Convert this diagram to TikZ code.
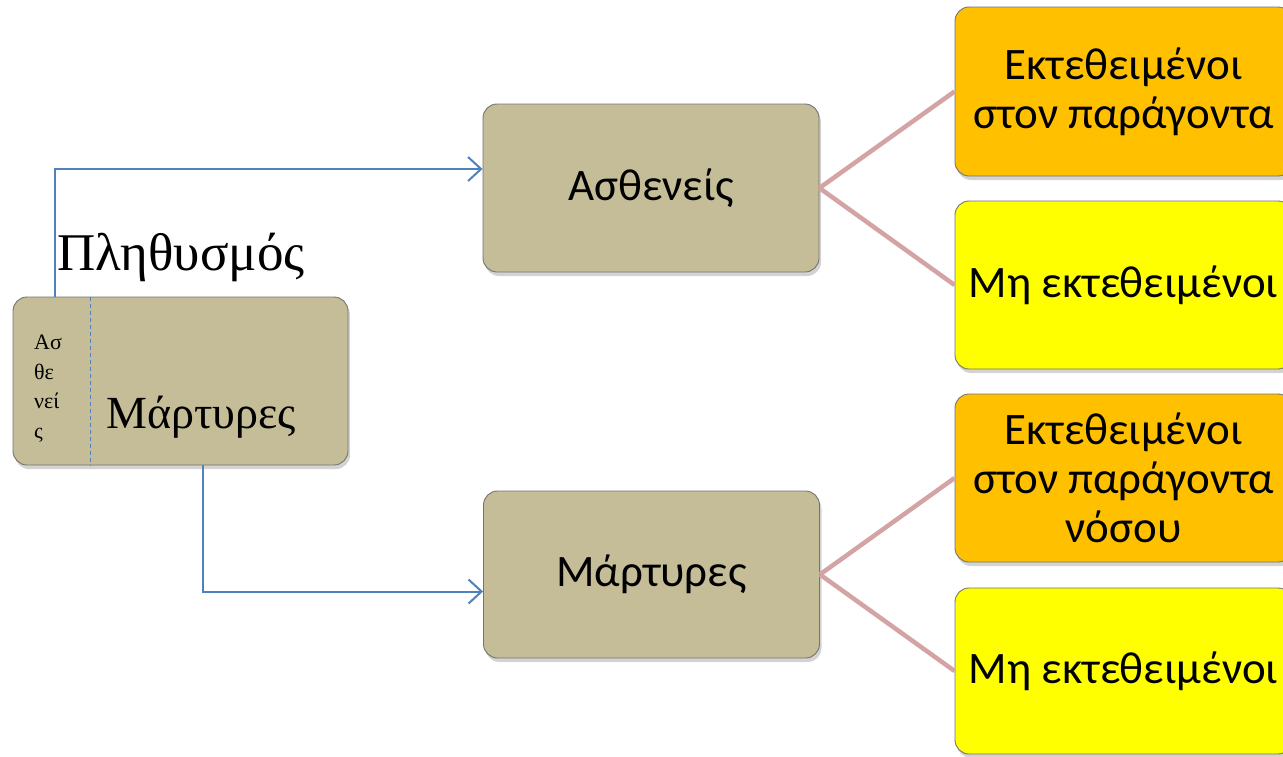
\documentclass[tikz,border=0pt]{standalone}
\usepackage{fontspec}
\setmainfont{Liberation Serif}
\newfontfamily\carl{Carlito}
\usetikzlibrary{arrows.meta,shadows}
\definecolor{tanbox}{HTML}{C4BD97}
\definecolor{orangebox}{HTML}{FFC000}
\definecolor{yellowbox}{HTML}{FFFF00}
\definecolor{bluelink}{HTML}{4F81BD}
\definecolor{pinklink}{HTML}{D4A3A3}
\tikzset{
  basebox/.style={rounded corners=14pt, draw=black!55, line width=0.9pt, inner sep=0pt,
    drop shadow={opacity=0.35, shadow xshift=2pt, shadow yshift=-4pt}},
  tanstyle/.style={basebox, fill=tanbox, minimum width=336pt, minimum height=168pt},
  rightbox/.style={basebox, minimum width=337pt, minimum height=168pt, align=center,
    font=\carl\fontsize{45}{49}\selectfont},
  midtext/.style={font=\carl\fontsize{45}{50}\selectfont},
  bluearrow/.style={draw=bluelink, line width=2pt, -{Straight Barb[length=13pt,width=24pt,line width=2pt]}},
  pinkline/.style={draw=pinklink, line width=4.5pt},
}
\begin{document}
\begin{tikzpicture}[x=1pt,y=-1pt]
\useasboundingbox (0,0) rectangle (1283,756);
\clip (0,0) rectangle (1283,756);
% left box
\node[tanstyle, minimum width=335pt] (lb) at (180.5,381) {};
\draw[bluelink, line width=1.2pt, dashed, dash pattern=on 4pt off 3pt] ([xshift=78pt]lb.north west) coordinate (d1) -- (d1 |- lb.south) coordinate (d2);
\node[anchor=base west, align=left, font=\fontsize{22}{29.5}\selectfont, inner sep=0pt] (small) at (34,438) {Ασ\\θε\\νεί\\ς};
\node[anchor=base west, font=\fontsize{46}{56}\selectfont, inner sep=0pt] (lbt) at (106,428) {Μάρτυρες};
\node[anchor=base west, font=\fontsize{53}{60}\selectfont, inner sep=0pt] (pop) at (57,270) {Πληθυσμός};
% middle boxes
\node[tanstyle, midtext] (as) at (651,188) {Ασθενείς};
\node[tanstyle, midtext, minimum height=167pt] (mt) at (651.5,574.5) {Μάρτυρες};
% right boxes
\node[rightbox, fill=orangebox, minimum height=169pt] (o1) at (1123.5,91.5) {Εκτεθειμένοι\\στον παράγοντα};
\node[rightbox, fill=yellowbox] (y1) at (1123.5,285) {Μη εκτεθειμένοι};
\node[rightbox, fill=orangebox] (o2) at (1123.5,478) {Εκτεθειμένοι\\στον παράγοντα\\νόσου};
\node[rightbox, fill=yellowbox, minimum height=166pt] (y2) at (1123.5,671) {Μη εκτεθειμένοι};
% connectors
\draw[bluearrow] ([xshift=42pt]lb.north west) |- ([yshift=19pt]as.west);
\draw[bluearrow] ([xshift=190pt]lb.south west) |- ([yshift=-17pt]mt.west);
\draw[pinkline] (as.east) -- (o1.west);
\draw[pinkline] (as.east) -- (y1.west);
\draw[pinkline] (mt.east) -- (o2.west);
\draw[pinkline] (mt.east) -- (y2.west);
\end{tikzpicture}
\end{document}
